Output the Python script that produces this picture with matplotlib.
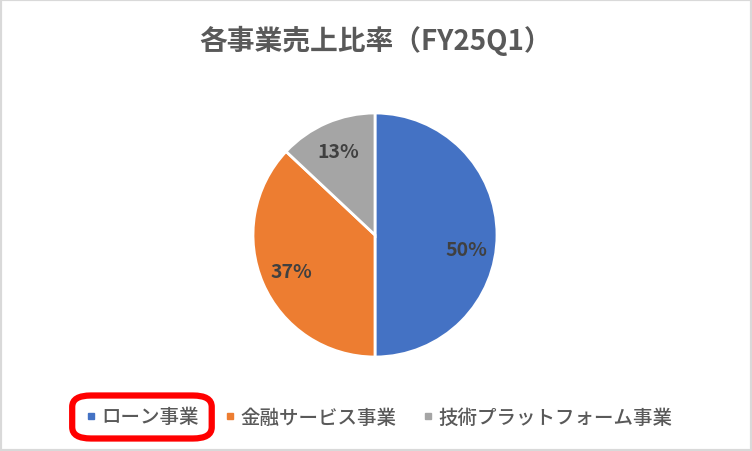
import matplotlib
matplotlib.use("Agg")
import matplotlib.pyplot as plt
from matplotlib.lines import Line2D
from matplotlib.patches import FancyBboxPatch, Rectangle

plt.rcParams['font.family'] = ['Noto Sans CJK JP', 'DejaVu Sans']

# data
title = "各事業売上比率（FY25Q1）"
categories = ["ローン事業", "金融サービス事業", "技術プラットフォーム事業"]
shares = [50, 37, 13]
colors = ["#4472C4", "#ED7D31", "#A5A5A5"]
highlight = "ローン事業"

W, H = 752, 452
fig = plt.figure(figsize=(W / 100, H / 100), dpi=100)
fig.patch.set_facecolor("white")

# pie axes placed in pixel terms (center 375,236 from top, radius 122)
cx, cy, r = 375, H - 236, 122
ax = fig.add_axes([(cx - r) / W, (cy - r) / H, 2 * r / W, 2 * r / H])
wedges, texts, autotexts = ax.pie(
    shares, colors=colors, startangle=90, counterclock=False,
    autopct="%d%%", pctdistance=0.75,
    wedgeprops=dict(edgecolor="white", linewidth=2),
    textprops=dict(color="#404040", fontsize=14, fontweight="bold"),
)
ax.set_aspect("equal")
ax.set_xlim(-1, 1)
ax.set_ylim(-1, 1)
# Excel puts the first label a bit lower
x0, y0 = autotexts[0].get_position()
autotexts[0].set_position((x0, y0 - 0.12))

fig.text(0.5, (H - 41) / H, title, ha="center", va="center",
         fontsize=20, color="#595959", fontweight="bold")

handles = [Line2D([], [], marker="s", linestyle="none", markersize=5,
                  markerfacecolor=c, markeredgecolor=c) for c in colors]
leg = fig.legend(handles, categories, loc="center", ncol=3,
                 bbox_to_anchor=(379 / W, (H - 418) / H), frameon=False,
                 handlelength=0.5, handletextpad=0.3, columnspacing=1.35,
                 prop=dict(size=14, weight="medium"))
for t in leg.get_texts():
    t.set_color("#595959")

# red rounded box around the highlighted legend entry
fig.canvas.draw()
rend = fig.canvas.get_renderer()
idx = categories.index(highlight)
tb = leg.get_texts()[idx].get_window_extent(rend)
hb = leg.legend_handles[idx].get_window_extent(rend)
left = min(tb.x0, hb.x0) - 10
right = tb.x1 + 13
bottom = tb.y0 - 12
top = tb.y1 + 12
box = FancyBboxPatch((left / W, bottom / H), (right - left) / W, (top - bottom) / H,
                     boxstyle="round,pad=0,rounding_size=0.025",
                     transform=fig.transFigure, fill=False,
                     edgecolor="#FF0000", linewidth=4.5)
fig.patches.append(box)

# outer chart border
fig.patches.append(Rectangle((0, 0), 1, 1, transform=fig.transFigure, fill=False,
                             edgecolor="#D9D9D9", linewidth=3))

fig.savefig("out.png", dpi=100, facecolor="white")
